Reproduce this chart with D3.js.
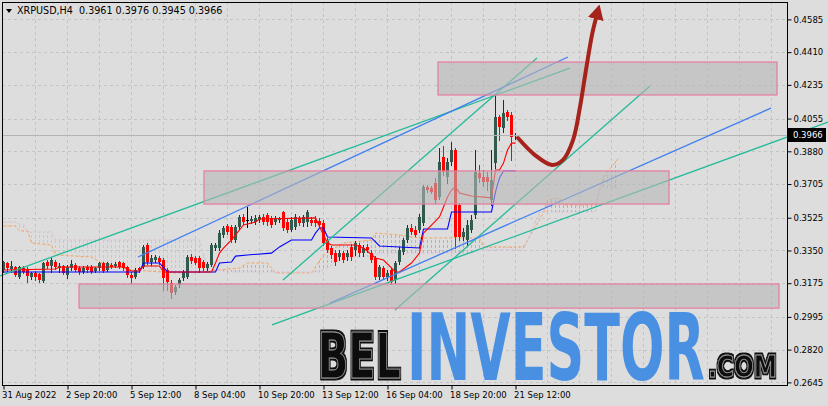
<!DOCTYPE html>
<html><head><meta charset="utf-8">
<script src="https://cdn.jsdelivr.net/npm/d3@7"></script>
<style>body{margin:0;background:#dddddd;} svg{display:block}</style>
</head><body><svg id="c" width="828" height="406"></svg>
<script>
// ---------------- DATA ----------------
const symbolName = "XRPUSD,H4";
const lastQuote = [0.3961, 0.3976, 0.3945, 0.3966]; // O H L C of current bar
const currentPrice = 0.3966;

const opens = [
0.3246,0.3283,0.3251,0.3262,0.3208,0.3256,0.3246,0.3208,0.3230,0.3224,
0.3187,0.3288,0.3267,0.3288,0.3256,0.3267,0.3219,0.3256,0.3272,0.3256,
0.3235,0.3262,0.3262,0.3240,0.3256,0.3283,0.3246,0.3272,0.3267,0.3288,
0.3283,0.3262,0.3219,0.3208,0.3256,0.3262,0.3379,0.3288,0.3299,0.3310,
0.3299,0.3246,0.3176,0.3128,0.3165,0.3203,0.3208,0.3315,0.3310,0.3310,
0.3288,0.3256,0.3272,0.3363,0.3363,0.3433,0.3481,0.3475,0.3406,0.3475,
0.3529,0.3513,0.3507,0.3502,0.3513,0.3529,0.3540,0.3524,0.3502,0.3513,
0.3556,0.3502,0.3459,0.3475,0.3524,0.3497,0.3502,0.3513,0.3513,0.3507,
0.3497,0.3406,0.3363,0.3336,0.3315,0.3336,0.3315,0.3369,0.3353,0.3379,
0.3336,0.3369,0.3336,0.3310,0.3208,0.3256,0.3208,0.3246,0.3192,0.3288,
0.3342,0.3406,0.3470,0.3459,0.3459,0.3497,0.3689,0.3684,0.3711,0.3636,
0.3850,0.3743,0.3823,0.3887,0.3593,0.3422,0.3406,0.3459,0.3540,0.3764,
0.3743,0.3743,0.3620,0.3817,0.4063,0.4005,0.4090,0.4074,0.3961];
const highs = [
0.3294,0.3288,0.3294,0.3267,0.3267,0.3267,0.3262,0.3235,0.3240,0.3230,
0.3288,0.3299,0.3310,0.3299,0.3283,0.3272,0.3272,0.3299,0.3283,0.3267,
0.3267,0.3272,0.3272,0.3262,0.3288,0.3288,0.3288,0.3283,0.3288,0.3294,
0.3288,0.3267,0.3235,0.3256,0.3262,0.3379,0.3390,0.3326,0.3326,0.3320,
0.3310,0.3256,0.3192,0.3165,0.3203,0.3246,0.3326,0.3331,0.3320,0.3320,
0.3299,0.3288,0.3390,0.3390,0.3459,0.3481,0.3491,0.3486,0.3486,0.3540,
0.3545,0.3582,0.3534,0.3540,0.3540,0.3545,0.3550,0.3534,0.3534,0.3529,
0.3561,0.3524,0.3529,0.3545,0.3534,0.3540,0.3566,0.3529,0.3534,0.3524,
0.3513,0.3417,0.3374,0.3353,0.3353,0.3347,0.3353,0.3385,0.3401,0.3390,
0.3379,0.3385,0.3353,0.3320,0.3272,0.3267,0.3246,0.3256,0.3294,0.3369,
0.3417,0.3486,0.3491,0.3481,0.3545,0.3700,0.3700,0.3695,0.3737,0.3898,
0.3908,0.3844,0.3930,0.3898,0.3604,0.3470,0.3513,0.3540,0.3887,0.3807,
0.3780,0.3769,0.3887,0.4181,0.4074,0.4154,0.4101,0.4090,0.3976];
const lows = [
0.3235,0.3240,0.3235,0.3214,0.3203,0.3230,0.3181,0.3198,0.3192,0.3181,
0.3181,0.3256,0.3235,0.3251,0.3235,0.3224,0.3203,0.3246,0.3240,0.3224,
0.3230,0.3235,0.3230,0.3235,0.3246,0.3235,0.3240,0.3256,0.3262,0.3256,
0.3246,0.3208,0.3176,0.3203,0.3235,0.3256,0.3278,0.3272,0.3288,0.3278,
0.3139,0.3139,0.3096,0.3117,0.3155,0.3192,0.3203,0.3283,0.3278,0.3235,
0.3246,0.3246,0.3267,0.3353,0.3353,0.3422,0.3438,0.3395,0.3395,0.3465,
0.3491,0.3475,0.3497,0.3491,0.3502,0.3491,0.3486,0.3475,0.3491,0.3502,
0.3459,0.3449,0.3454,0.3465,0.3486,0.3481,0.3481,0.3486,0.3481,0.3475,
0.3379,0.3342,0.3310,0.3272,0.3299,0.3288,0.3299,0.3299,0.3326,0.3320,
0.3320,0.3342,0.3288,0.3198,0.3198,0.3198,0.3192,0.3171,0.3176,0.3278,
0.3331,0.3395,0.3438,0.3427,0.3449,0.3486,0.3663,0.3657,0.3604,0.3625,
0.3753,0.3711,0.3807,0.3363,0.3406,0.3406,0.3379,0.3449,0.3524,0.3716,
0.3695,0.3673,0.3593,0.3791,0.3940,0.3983,0.4047,0.3834,0.3945];
const closes = [
0.3288,0.3256,0.3267,0.3219,0.3262,0.3235,0.3214,0.3230,0.3208,0.3192,
0.3283,0.3267,0.3299,0.3262,0.3267,0.3230,0.3262,0.3278,0.3246,0.3235,
0.3256,0.3246,0.3235,0.3256,0.3283,0.3240,0.3283,0.3262,0.3278,0.3262,
0.3256,0.3219,0.3203,0.3246,0.3246,0.3369,0.3288,0.3310,0.3315,0.3288,
0.3203,0.3181,0.3123,0.3155,0.3192,0.3235,0.3315,0.3294,0.3283,0.3256,
0.3256,0.3278,0.3379,0.3379,0.3443,0.3470,0.3449,0.3406,0.3475,0.3529,
0.3502,0.3513,0.3518,0.3524,0.3529,0.3502,0.3502,0.3486,0.3524,0.3524,
0.3470,0.3459,0.3513,0.3529,0.3497,0.3529,0.3556,0.3497,0.3497,0.3486,
0.3390,0.3353,0.3326,0.3288,0.3336,0.3299,0.3336,0.3315,0.3390,0.3336,
0.3363,0.3353,0.3299,0.3208,0.3262,0.3208,0.3230,0.3181,0.3283,0.3353,
0.3406,0.3470,0.3449,0.3433,0.3529,0.3689,0.3673,0.3663,0.3620,0.3823,
0.3769,0.3823,0.3887,0.3422,0.3422,0.3449,0.3486,0.3513,0.3769,0.3737,
0.3716,0.3716,0.3727,0.4063,0.4010,0.4085,0.4063,0.3957,0.3966];

const priceTicks = [0.4585,0.4410,0.4235,0.4055,0.3880,0.3705,0.3525,0.3350,0.3175,0.2995,0.2820,0.2645];
const timeLabels = ["31 Aug 2022","2 Sep 20:00","5 Sep 12:00","8 Sep 04:00","10 Sep 20:00","13 Sep 12:00","16 Sep 04:00","18 Sep 20:00","21 Sep 12:00"];
const timeLabelBars = [0,16,32,48,64,80,96,112,128];

// Ichimoku lines as [barIndex, price] breakpoints
const tenkan = [[0,0.3246],[13,0.3251],[14,0.3262],[30,0.3262],[32,0.3240],[34,0.3240],[35,0.3267],[39,0.3267],[40,0.3235],
[52,0.3235],[53,0.3283],[54,0.3336],[55,0.3363],[57,0.3406],[58,0.3433],[60,0.3486],[63,0.3502],[64,0.3518],[78,0.3524],
[80,0.3433],[81,0.3390],[82,0.3379],[88,0.3379],[90,0.3363],[93,0.3310],[95,0.3299],[98,0.3235],[99,0.3235],[102,0.3283],
[104,0.3336],[105,0.3443],[107,0.3486],[109,0.3529],[110,0.3582],[111,0.3636],[112,0.3673],[113,0.3689],[114,0.3657],
[117,0.3641],[122,0.3631],[123,0.3780],[124,0.3780],[125,0.3817],[126,0.3887],[127,0.3924],[128,0.3924]];
const kijun = [[0,0.3235],[34,0.3235],[35,0.3283],[39,0.3283],[41,0.3235],[53,0.3235],[54,0.3283],[57,0.3288],[58,0.3320],
[61,0.3326],[67,0.3336],[69,0.3369],[72,0.3406],[77,0.3406],[78,0.3443],[79,0.3470],[80,0.3470],[81,0.3422],[92,0.3417],
[94,0.3374],[104,0.3363],[105,0.3465],[111,0.3465],[112,0.3556],[122,0.3556],[123,0.3663],[124,0.3737],[125,0.3775],[128,0.3775]];
const spanA = [[0,0.3481],[3,0.3481],[4,0.3454],[6,0.3454],[7,0.3390],[12,0.3379],[13,0.3326],[22,0.3315],[24,0.3288],
[32,0.3246],[43,0.3230],[50,0.3235],[54,0.3246],[59,0.3256],[61,0.3283],[66,0.3283],[68,0.3230],[77,0.3230],[80,0.3326],
[82,0.3353],[85,0.3390],[92,0.3406],[93,0.3443],[99,0.3433],[104,0.3417],[119,0.3417],[120,0.3369],[130,0.3369],
[135,0.3550],[136,0.3620],[139,0.3631],[140,0.3593],[148,0.3593],[150,0.3743],[152,0.3796],[154,0.3850]];
const spanB = [[0,0.3502],[3,0.3502],[4,0.3491],[5,0.3491],[6,0.3449],[12,0.3449],[13,0.3406],[49,0.3406],[51,0.3256],
[56,0.3235],[79,0.3235],[82,0.3272],[84,0.3310],[92,0.3320],[94,0.3336],[117,0.3336],[119,0.3353],[130,0.3353],
[134,0.3556],[148,0.3556],[149,0.3684],[154,0.3684]];

// drawn objects: trend lines [bar0, price0, bar1, price1]
const tealLines = [[-0.75,0.3214,141.75,0.4325],[70,0.3192,133.5,0.4379],[67.25,0.2952,206.25,0.4036],[98,0.3032,161.75,0.4229]];
const blueLines = [[33.75,0.3315,141.25,0.4384],[81.75,0.3069,192,0.4111]];
// zones [bar0, bar1, priceTop, priceBottom]
const zones = [[108.75,193.5,0.4357,0.4181],[50.25,166.5,0.3775,0.3598],[19,194,0.3171,0.3042]];
// forecast arrow path [bar, price]
const arrowPath = [[128.75,0.3951],[133,0.3860],[137.25,0.3807],[140,0.3834],[142.5,0.3940],[144.25,0.4117],[145.75,0.4315],[147.25,0.4502],[148.25,0.4592]];

// ---------------- DRAW ----------------
const W=828,H=406, L=2, R=787, T=2, B=385;
const svg = d3.select("#c");
const x = d3.scaleLinear().domain([0,128]).range([3,515]);
const y = d3.scaleLinear().domain([0.2631,0.4678]).range([B,T]);
const defs = svg.append("defs");

svg.append("rect").attr("width",W).attr("height",H).attr("fill","#dddddd");

// grid
const grid = svg.append("g").attr("stroke","#c4c4c4").attr("stroke-dasharray","3,3").attr("stroke-width",1);
d3.range(8,200,8).forEach(b=>{ const xx=Math.round(x(b))+0.5; if(xx<R) grid.append("line").attr("x1",xx).attr("x2",xx).attr("y1",T).attr("y2",B); });
priceTicks.forEach(p=>{ const yy=Math.round(y(p))+0.5; grid.append("line").attr("x1",L).attr("x2",R).attr("y1",yy).attr("y2",yy); });

// cloud hatch
function pat(id,color){
  const p=defs.append("pattern").attr("id",id).attr("patternUnits","userSpaceOnUse").attr("x",3).attr("y",0).attr("width",4).attr("height",5);
  p.append("rect").attr("x",0).attr("y",0).attr("width",1).attr("height",3).attr("fill",color);
}
pat("hA","#f4a460"); pat("hB","#d8bfd8");
function clipA(id,data,toBottom){
  defs.append("clipPath").attr("id",id).append("path")
    .attr("d", d3.area().x(d=>x(d[0])).y0(toBottom?B:0).y1(d=>y(d[1]))(data));
}
clipA("belowA",spanA,true); clipA("aboveA",spanA,false);
clipA("belowB",spanB,true); clipA("aboveB",spanB,false);
const cx0=x(0)-1, cx1=x(154)+2;
svg.append("g").attr("clip-path","url(#belowA)").append("g").attr("clip-path","url(#aboveB)")
  .append("rect").attr("x",cx0).attr("y",0).attr("width",cx1-cx0).attr("height",B).attr("fill","url(#hA)");
svg.append("g").attr("clip-path","url(#belowB)").append("g").attr("clip-path","url(#aboveA)")
  .append("rect").attr("x",cx0).attr("y",0).attr("width",cx1-cx0).attr("height",B).attr("fill","url(#hB)");
const ln = d3.line().x(d=>x(d[0])+0.5).y(d=>y(d[1]));
svg.append("path").attr("d",ln(spanA)).attr("fill","none").attr("stroke","#f4a460").attr("stroke-dasharray","3,2");
svg.append("path").attr("d",ln(spanB)).attr("fill","none").attr("stroke","#d8bfd8").attr("stroke-dasharray","3,2");

// candles
const bars = d3.range(opens.length).map(i=>({i,o:opens[i],h:highs[i],l:lows[i],c:closes[i]}));
const cg = svg.append("g");
bars.forEach(d=>{
  const xx = Math.round(x(d.i));
  const col = d.c>d.o ? "#2f5a4d" : (d.c<d.o ? "#ff0000" : "#000000");
  const wick = d.c>d.o ? "#1c2f2a" : col;
  cg.append("line").attr("x1",xx+0.5).attr("x2",xx+0.5).attr("y1",Math.round(y(d.h))).attr("y2",Math.round(y(d.l))+1).attr("stroke",wick);
  const t=Math.round(y(Math.max(d.o,d.c))), b=Math.round(y(Math.min(d.o,d.c)));
  cg.append("rect").attr("x",xx-1).attr("y",t).attr("width",3).attr("height",d.c!==d.o?Math.max(1,b-t):1).attr("fill",col);
});

// ichimoku tenkan / kijun
svg.append("path").attr("d",ln(kijun)).attr("fill","none").attr("stroke","#0000ff").attr("stroke-width",1.1);
svg.append("path").attr("d",ln(tenkan)).attr("fill","none").attr("stroke","#ff0000").attr("stroke-width",1.1);

// bid line
const by = Math.round(y(currentPrice))+0.5;
svg.append("line").attr("x1",L).attr("x2",R).attr("y1",by).attr("y2",by).attr("stroke","#b4b4b4");

// trend lines
const tl = svg.append("g").attr("stroke-width",1.3).attr("fill","none");
tealLines.forEach(d=>tl.append("line").attr("x1",x(d[0])).attr("y1",y(d[1])).attr("x2",x(d[2])).attr("y2",y(d[3])).attr("stroke","#22bb99"));
blueLines.forEach(d=>tl.append("line").attr("x1",x(d[0])).attr("y1",y(d[1])).attr("x2",x(d[2])).attr("y2",y(d[3])).attr("stroke","#3f7ff0"));

// zones
zones.forEach(d=>{
  svg.append("rect").attr("x",x(d[0])).attr("y",y(d[2])).attr("width",x(d[1])-x(d[0])).attr("height",y(d[3])-y(d[2]))
    .attr("fill","rgba(184,184,184,0.6)").attr("stroke","#e67c9c").attr("stroke-width",1.2);
});

// forecast arrow
defs.append("marker").attr("id","ah").attr("markerUnits","userSpaceOnUse").attr("viewBox","0 -8 15 16")
  .attr("refX",1).attr("refY",0).attr("markerWidth",15).attr("markerHeight",16).attr("orient","auto")
  .append("path").attr("d","M0,-8 L15,0 L0,8 Z").attr("fill","#a5231a");
svg.append("path").attr("d",d3.line().x(d=>x(d[0])).y(d=>y(d[1])).curve(d3.curveCatmullRom)(arrowPath))
  .attr("fill","none").attr("stroke","#a5231a").attr("stroke-width",4).attr("stroke-linecap","round").attr("marker-end","url(#ah)");

// watermark (outlined letters via dilate filter; condensed by horizontal scaling)
const f = defs.append("filter").attr("id","outl").attr("x","-10%").attr("y","-10%").attr("width","120%").attr("height","120%");
f.append("feMorphology").attr("in","SourceAlpha").attr("operator","dilate").attr("radius",1.6).attr("result","d");
f.append("feFlood").attr("flood-color","#111");
f.append("feComposite").attr("in2","d").attr("operator","in").attr("result","o");
const fm = f.append("feMerge"); fm.append("feMergeNode").attr("in","o"); fm.append("feMergeNode").attr("in","SourceGraphic");
const wm = svg.append("g").attr("font-family","'DejaVu Sans Condensed','DejaVu Sans',sans-serif").attr("font-weight","bold");
function wmText(txt,xx,yy,fs,len){
  const t = wm.append("text").attr("x",0).attr("y",0).attr("font-size",fs).text(txt);
  const w = t.node().getComputedTextLength() || len;
  t.attr("transform",`translate(${xx},${yy}) scale(${len/w},1)`);
  return t;
}
wmText("BEL",318,378,62,83).attr("fill","#111").attr("stroke","#9a9a9a").attr("stroke-width",0.9).attr("filter","url(#outl)");
wmText("INVESTOR",407,380,92,298).attr("fill","#4a90e2");
wmText(".COM",708,377,31,69).attr("fill","#111").attr("stroke","#9a9a9a").attr("stroke-width",0.9).attr("filter","url(#outl)");

// frame
svg.append("rect").attr("x",L+0.5).attr("y",T+0.5).attr("width",R-L).attr("height",B-T).attr("fill","none").attr("stroke","#000");

// axes
const fontF="'DejaVu Sans',sans-serif";
const ya = svg.append("g").attr("transform",`translate(${R+0.5},0)`)
  .call(d3.axisRight(y).tickValues(priceTicks).tickFormat(d3.format(".4f")).tickSize(4).tickSizeOuter(0));
ya.select(".domain").remove();
ya.selectAll("line").attr("stroke","#000");
ya.selectAll("text").attr("font-family",fontF).attr("font-size","8.5px").attr("fill","#000").attr("x",6);
const xa = svg.append("g").attr("transform",`translate(0.5,${B+0.5})`)
  .call(d3.axisBottom(x).tickValues(timeLabelBars).tickFormat((d,i)=>timeLabels[i]).tickSize(4).tickSizeOuter(0));
xa.select(".domain").remove();
xa.selectAll("line").attr("stroke","#000");
xa.selectAll("text").attr("font-family",fontF).attr("font-size","8.5px").attr("fill","#000").attr("text-anchor","start").attr("x",-2).attr("y",6);

// current price label
const py = y(currentPrice);
svg.append("rect").attr("x",R+1).attr("y",Math.round(py)-7).attr("width",38).attr("height",14).attr("fill","#000");
svg.append("text").attr("x",R+6).attr("y",py).attr("dy","0.35em").attr("font-family",fontF).attr("font-size","8.5px").attr("fill","#fff").text(currentPrice.toFixed(4));

// title
svg.append("path").attr("d","M6,9 L12,9 L9,13 Z").attr("fill","#000");
svg.append("text").attr("x",17).attr("y",14).attr("font-family",fontF).attr("font-size","9.6px").attr("fill","#000")
  .style("white-space","pre").text(symbolName+"  "+lastQuote.map(v=>v.toFixed(4)).join(" "));
</script></body></html>
